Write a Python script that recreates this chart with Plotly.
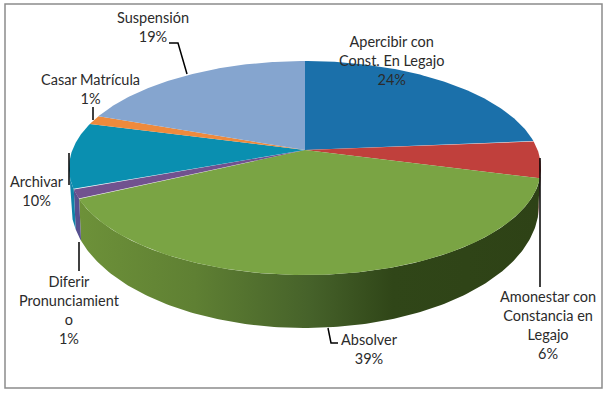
import numpy as np
import plotly.graph_objects as go

categories = ["Apercibir con Const. En Legajo", "Amonestar con Constancia en Legajo", "Absolver",
              "Diferir Pronunciamiento", "Archivar", "Casar Matrícula", "Suspensión"]
values = [23.6, 5.6, 38.6, 1.4, 10.0, 1.4, 19.4]
top_colors = ["#1b70aa", "#c0403c", "#7aa444", "#71528f", "#0a8fb0", "#ee8a3c", "#85a5cf"]
wall_colors = ["#124f78", "#7c2825", None, "#56508f", "#0f83a8", "#b0662c", "#5f7aa0"]
wall_gradient = [[0, "#6d9139"], [0.25, "#5f8033"], [0.5, "#46622a"], [0.68, "#304618"], [1, "#2e4216"]]
labels = [
    ("Apercibir con<br>Const. En Legajo<br>24%", 391, 60),
    ("Amonestar con<br>Constancia en<br>Legajo<br>6%", 548, 325),
    ("Absolver<br>39%", 369, 349),
    ("Diferir<br>Pronunciamient<br>o<br>1%", 69, 310),
    ("Archivar<br>10%", 37, 191),
    ("Casar Matrícula<br>1%", 90, 89),
    ("Suspensión<br>19%", 153, 27),
]
leaders = [
    ([169, 178, 187], [43, 43, 74]),
    ([93, 93], [107, 120]),
    ([69, 69], [153, 185]),
    ([79, 79], [242, 271]),
    ([328, 331, 338], [328, 343, 343]),
    ([540, 540], [158, 287]),
]

# projection of the round pie onto the tilted view
CX, CY, RX, RY = 305, 168, 236, 107
BCY, BRX, BRY = 205, 234, 123
TILT = 18 / 107


def rim(frac):
    t = 2 * np.pi * np.asarray(frac)
    u, v = np.sin(t), np.cos(t)
    d = 1 + TILT * v
    return u * np.sqrt(1 - TILT ** 2) / d, (v + TILT) / d


fig = go.Figure()
edges = np.cumsum([0] + values) / sum(values)

# side walls, only where the rim faces the viewer
for i in range(len(values)):
    f = np.linspace(edges[i], edges[i + 1], 160)
    u, v = rim(f)
    keep = v <= 0
    if not keep.any():
        continue
    u, v = u[keep], v[keep]
    xs = np.r_[CX + RX * u, (CX + BRX * u)[::-1]]
    ys = np.r_[CY - RY * v, (BCY - BRY * v)[::-1]]
    kw = dict(x=xs, y=ys, mode="lines", line=dict(width=0), fill="toself", hoverinfo="skip", showlegend=False)
    if wall_colors[i] is None:
        kw["fillgradient"] = dict(type="horizontal", colorscale=wall_gradient)
    else:
        kw["fillcolor"] = wall_colors[i]
    fig.add_trace(go.Scatter(**kw))

# top faces
for i in range(len(values)):
    f = np.linspace(edges[i], edges[i + 1], 120)
    u, v = rim(f)
    xs = np.r_[CX, CX + RX * u, CX]
    ys = np.r_[CY - RY * TILT, CY - RY * v, CY - RY * TILT]
    fig.add_trace(go.Scatter(x=xs, y=ys, mode="lines", line=dict(width=0), fill="toself",
                             fillcolor=top_colors[i], name=categories[i], showlegend=False))

for lx, ly in leaders:
    fig.add_trace(go.Scatter(x=lx, y=ly, mode="lines", line=dict(color="#000000", width=1.5),
                             hoverinfo="skip", showlegend=False))

for text, x, y in labels:
    fig.add_annotation(x=x, y=y, text=text, showarrow=False, xanchor="center", yanchor="middle",
                       font=dict(family="Lato", size=14.5, color="#2b2b2b"))

fig.add_shape(type="rect", x0=5, y0=4, x1=602, y1=388, line=dict(color="#8c8c8c", width=1.5), layer="below")

fig.update_layout(
    width=608, height=395, margin=dict(l=0, r=0, t=0, b=0),
    paper_bgcolor="white", plot_bgcolor="white", showlegend=False,
    xaxis=dict(range=[0, 608], visible=False, fixedrange=True),
    yaxis=dict(range=[395, 0], visible=False, fixedrange=True),
)
fig.write_html("out.html", config=dict(displayModeBar=False),
               post_script="document.body.style.margin='0';document.body.style.overflow='hidden';")
